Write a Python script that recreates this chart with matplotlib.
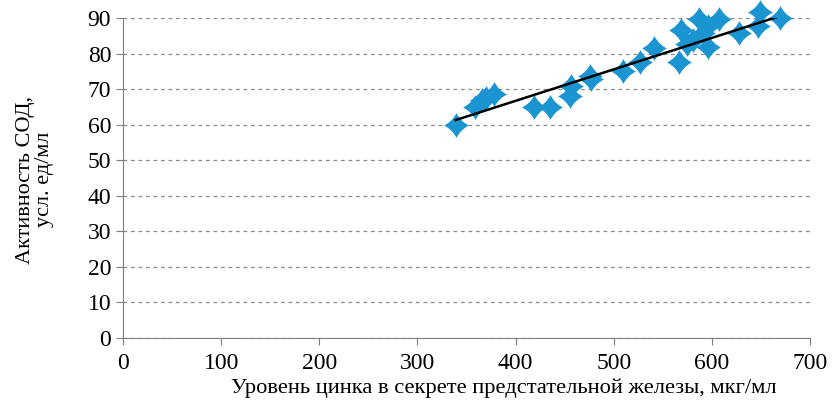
import numpy as np
import matplotlib.pyplot as plt
from matplotlib.path import Path

# zinc level (mcg/ml) vs SOD activity
zinc = [339, 359, 366, 370, 378, 419, 435, 455, 456, 476, 477, 509, 527, 541,
        566, 569, 575, 581, 587, 591, 596, 596, 607, 628, 647, 649, 669]
sod = [60, 65, 67, 67.5, 68.6, 65, 65, 68, 71, 73.7, 72.8, 75, 77.6, 81.5,
       77.6, 86.6, 82.7, 83.8, 89.7, 85.8, 87.8, 81.8, 89.7, 85.8, 87.8, 91.7, 90]

# linear trend as drawn in the source
trend_slope = 0.0885
trend_intercept = 31.3

xticks = [0, 100, 200, 300, 400, 500, 600, 700]
yticks = [0, 10, 20, 30, 40, 50, 60, 70, 80, 90]

plt.rcParams['font.family'] = ['Liberation Serif', 'DejaVu Serif']

# concave diamond marker
c = 0.33
verts = [(0, 1), (c, c), (1, 0), (c, -c), (0, -1),
         (-c, -c), (-1, 0), (-c, c), (0, 1), (0, 1)]
codes = [Path.MOVETO, Path.CURVE3, Path.CURVE3, Path.CURVE3, Path.CURVE3,
         Path.CURVE3, Path.CURVE3, Path.CURVE3, Path.CURVE3, Path.CLOSEPOLY]
star = Path(verts, codes)

fig = plt.figure(figsize=(8.38, 4.07), dpi=100)
ax = fig.add_axes([0.1468, 0.1695, 0.8198, 0.7863])

ax.scatter(zinc, sod, marker=star, s=320, color='#1a95d2', zorder=3,
           linewidths=0, clip_on=False)

xl = np.array([min(zinc), max(zinc)])
ax.plot(xl, trend_slope * xl + trend_intercept, color='black', lw=1.8, zorder=4)

ax.set_xlim(0, 700)
ax.set_ylim(0, 90)
ax.set_xticks(xticks)
ax.set_yticks(yticks)
ax.yaxis.grid(True, linestyle=(0, (3, 3)), color='#8a8a8a', lw=0.9)
ax.set_axisbelow(True)
for s in ['top', 'right']:
    ax.spines[s].set_visible(False)
for s in ['left', 'bottom']:
    ax.spines[s].set_color('#7f7f7f')
ax.tick_params(colors='#7f7f7f', labelcolor='black', labelsize=17, length=5)
ax.tick_params(axis='x', pad=6)

ax.set_xlabel('Уровень цинка в секрете предстательной железы, мкг/мл', fontsize=16.2)
ax.xaxis.set_label_coords(0.555, -0.125)
ax.set_ylabel('Активность СОД,\nусл. ед/мл', fontsize=16, linespacing=1.0)
ax.yaxis.set_label_coords(-0.101, 0.495)

plt.savefig('out.png', dpi=100)
